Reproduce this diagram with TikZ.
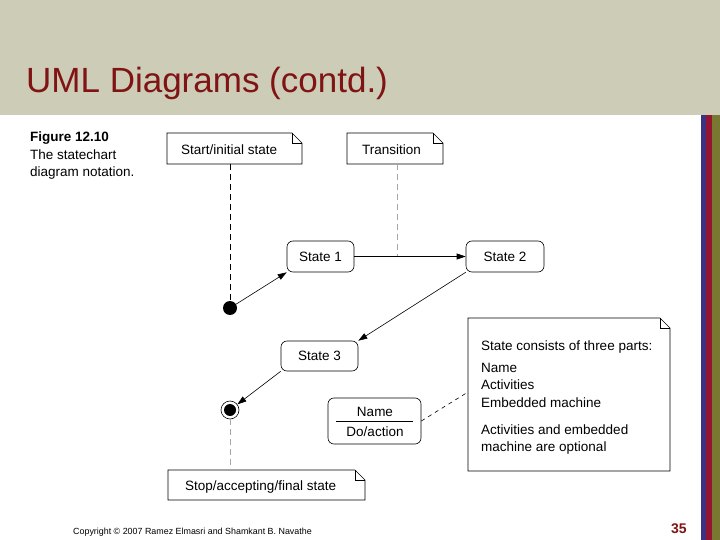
\documentclass[tikz,border=0pt]{standalone}
\usepackage{fontspec}
\setmainfont{Liberation Sans}
\usetikzlibrary{arrows.meta}
\definecolor{band}{RGB}{204,204,183}
\definecolor{ttl}{RGB}{128,20,20}
\definecolor{sblue}{RGB}{60,50,130}
\definecolor{sred}{RGB}{150,20,50}
\definecolor{solive}{RGB}{120,120,50}
\tikzset{
  x=1pt,y=-1pt,
  txt/.style={font=\fontsize{13.5}{15}\selectfont,inner sep=0pt,anchor=base west},
  statebox/.style={draw,rounded corners=6pt,line width=0.6pt,font=\fontsize{13.5}{15}\selectfont},
  arr/.style={-{Triangle[length=9pt,width=6pt]},line width=0.6pt},
  dsh/.style={dashed,dash pattern=on 6pt off 4pt,line width=0.6pt},
  gdsh/.style={dsh,draw=gray!70},
}
\newcommand{\note}[5]{% name, x1,y1,x2,y2
  \draw[line width=0.6pt] (#2,#3) -- (#4-10,#3) -- (#4,#3+10) -- (#4,#5) -- (#2,#5) -- cycle;
  \draw[line width=0.6pt] (#4-10,#3) -- (#4-10,#3+10) -- (#4,#3+10);
  \coordinate (#1) at ({(#2+#4)/2},{(#3+#5)/2});
}
\begin{document}
\begin{tikzpicture}
\useasboundingbox (0,0) rectangle (720,540);
\fill[white] (0,0) rectangle (720,540);
\fill[band] (0,0) rectangle (720,115);
\fill[sblue] (701,115) rectangle (706,540);
\fill[sred] (706,115) rectangle (712,540);
\fill[solive] (712,115) rectangle (720,540);
\node[font=\fontsize{35}{38}\selectfont,text=ttl,anchor=base west,inner sep=0pt] (title) at (26,93) {UML Diagrams (contd.)};
\node[txt,font=\bfseries\fontsize{13.5}{15}\selectfont] (fig) at (30,142) {Figure 12.10};
\node[txt] (cap1) at (30,160) {The statechart};
\node[txt] (cap2) at (30,177) {diagram notation.};
% notes
\note{nstart}{167}{133}{302}{164}
\node[txt] (tstart) at (181,155) {Start/initial state};
\note{ntrans}{347}{133}{443}{164}
\node[txt] (ttrans) at (362,155) {Transition};
\note{nstop}{168}{470}{365}{500}
\node[txt] (tstop) at (185,490) {Stop/accepting/final state};
\note{nbig}{468}{318}{670}{471}
\node[txt] (b1) at (481,350) {State consists of three parts:};
\node[txt] (b2) at (481,372) {Name};
\node[txt] (b3) at (481,389) {Activities};
\node[txt] (b4) at (481,407) {Embedded machine};
\node[txt] (b5) at (481,434) {Activities and embedded};
\node[txt] (b6) at (481,451) {machine are optional};
% states
\node[statebox,minimum width=67pt,minimum height=31pt] (s1) at (320.5,256.5) {State 1};
\node[statebox,minimum width=78pt,minimum height=31pt] (s2) at (505,256.5) {State 2};
\node[statebox,minimum width=77pt,minimum height=30pt] (s3) at (319.5,356) {State 3};
\node[draw,rounded corners=6pt,line width=0.6pt,minimum width=93pt,minimum height=46pt] (nd) at (374.5,421) {};
\node[txt,anchor=base] (ndn) at (375,416) {Name};
\node[txt,anchor=base] (nda) at (375,436) {Do/action};
\draw[line width=0.5pt] (336,421) -- (413,421);
% initial & final
\node[circle,fill=black,minimum size=14pt,inner sep=0pt] (ini) at (230,308) {};
\node[circle,draw,line width=0.6pt,minimum size=18pt,inner sep=0pt] (fin) at (230,410) {};
\node[circle,fill=black,minimum size=12pt,inner sep=0pt] (fini) at (230,410) {};
% connectors
\draw[dsh] (230,164) -- (ini);
\draw[gdsh] (397,164) -- (397,256);
\draw[arr] (ini) -- (s1.south west);
\draw[arr] (s1) -- (s2);
\draw[arr] (s2.south west) -- (s3.north east);
\draw[arr] (s3.south west) -- (fin);
\draw[gdsh] (fin) -- (230,470);
\draw[dsh,dash pattern=on 4pt off 4pt] (nd.east) -- (468,392);
% footer
\node[anchor=base west,inner sep=0pt,font=\fontsize{8.9}{10}\selectfont] (copy) at (73,534) {Copyright © 2007 Ramez Elmasri and Shamkant B. Navathe};
\node[anchor=base west,inner sep=0pt,font=\bfseries\fontsize{14}{16}\selectfont,text=ttl] (pg) at (671,533) {35};
\end{tikzpicture}
\end{document}
